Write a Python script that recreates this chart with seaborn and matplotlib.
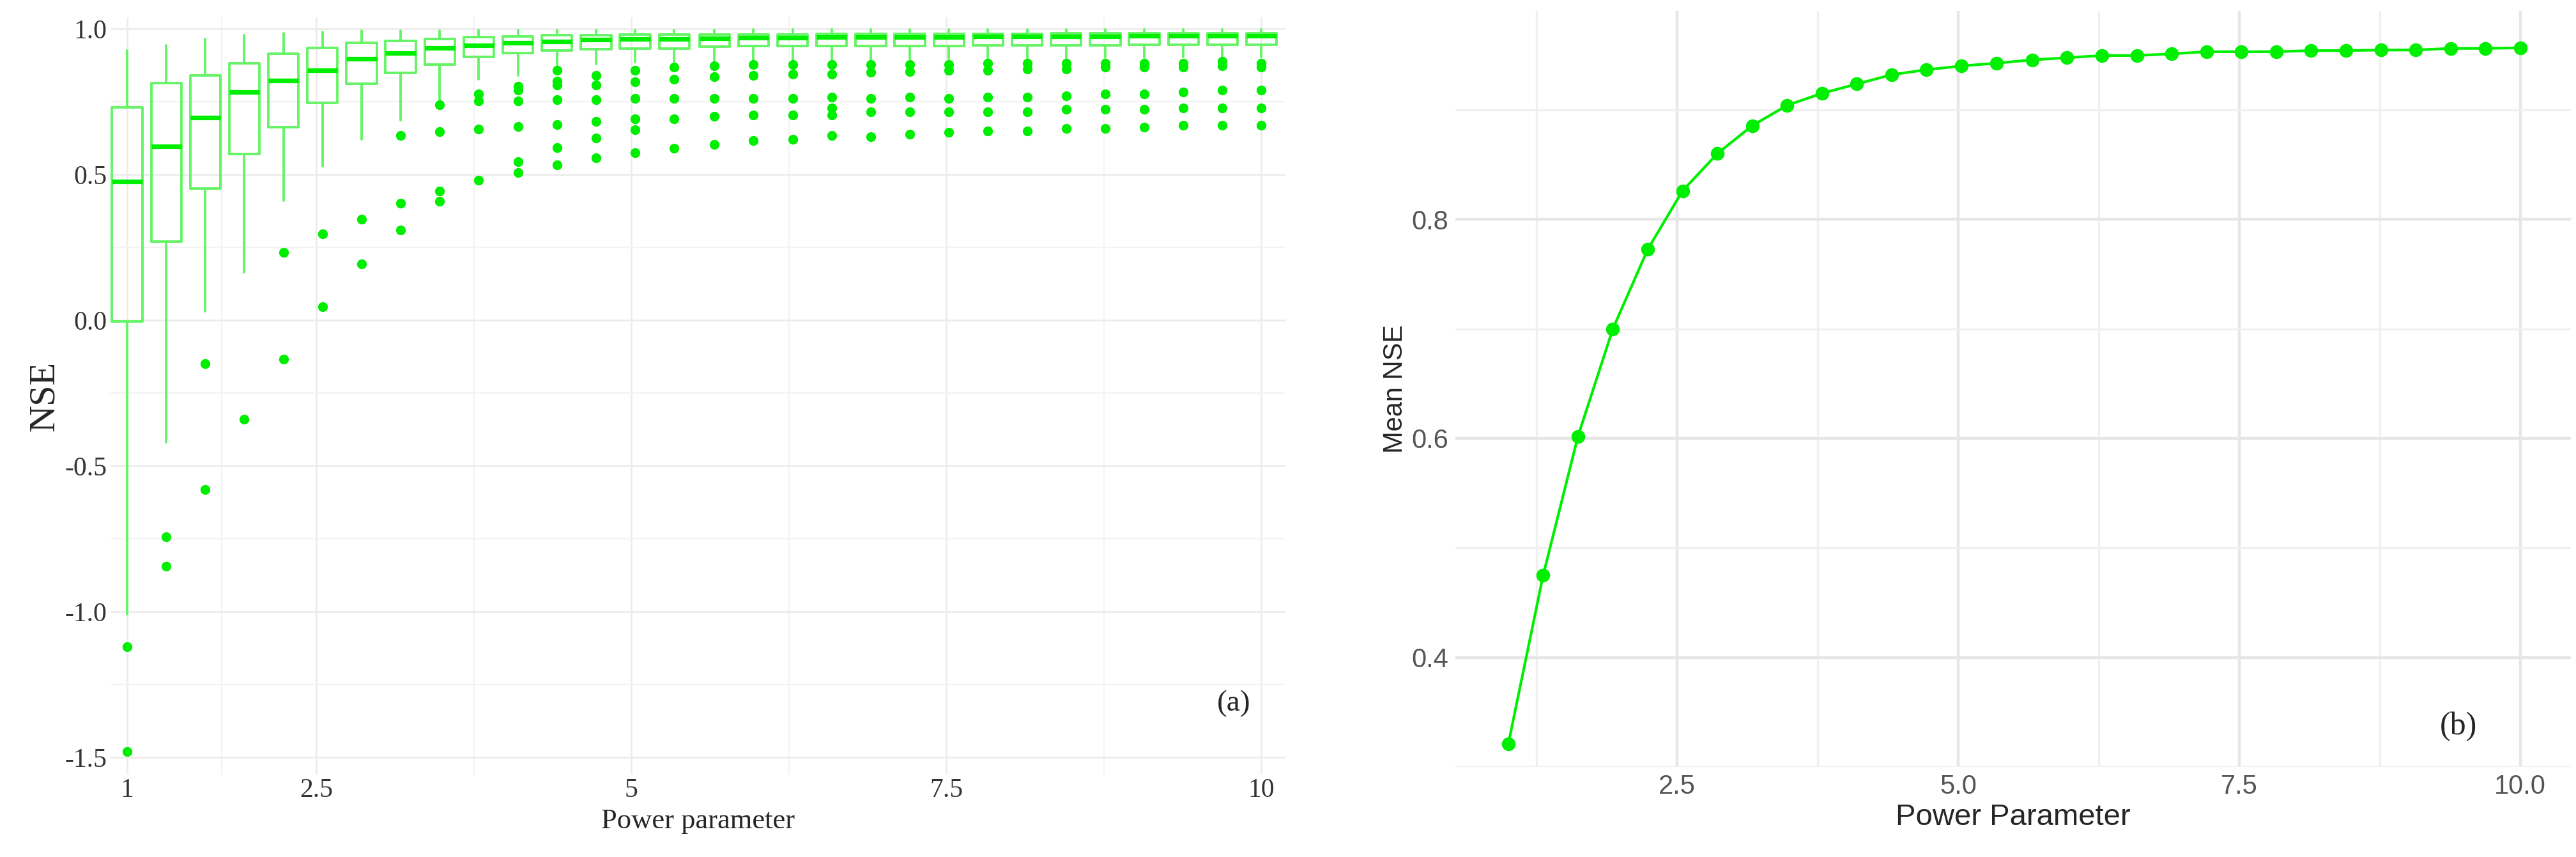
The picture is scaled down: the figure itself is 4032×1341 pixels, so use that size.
import numpy as np
import pandas as pd
import matplotlib
matplotlib.use("Agg")
import matplotlib.pyplot as plt
import seaborn as sns

# power parameter values (30 steps from 1 to 10)
power = [1.0, 1.31, 1.62, 1.93, 2.24, 2.55, 2.86, 3.17, 3.48, 3.79,
         4.10, 4.41, 4.72, 5.03, 5.34, 5.66, 5.97, 6.28, 6.59, 6.90,
         7.21, 7.52, 7.83, 8.14, 8.45, 8.76, 9.07, 9.38, 9.69, 10.0]

# box statistics
whis_hi = [0.925, 0.944, 0.966, 0.979, 0.985, 0.990, 0.994, 0.994, 0.994, 0.995,
           0.995, 0.995, 0.996, 0.996, 0.996, 0.996, 0.997, 0.997, 0.997, 0.997,
           0.997, 0.998, 0.998, 0.998, 0.998, 0.998, 0.999, 0.999, 0.999, 0.999]
q3 = [0.731, 0.813, 0.841, 0.882, 0.914, 0.935, 0.951, 0.959, 0.966, 0.972,
      0.974, 0.978, 0.978, 0.980, 0.980, 0.980, 0.981, 0.981, 0.982, 0.982,
      0.982, 0.983, 0.983, 0.983, 0.984, 0.984, 0.985, 0.985, 0.985, 0.985]
med = [0.476, 0.597, 0.696, 0.784, 0.823, 0.858, 0.897, 0.916, 0.935, 0.944,
       0.951, 0.957, 0.963, 0.966, 0.966, 0.967, 0.970, 0.970, 0.971, 0.971,
       0.972, 0.972, 0.973, 0.973, 0.974, 0.974, 0.975, 0.975, 0.976, 0.976]
q1 = [-0.004, 0.269, 0.451, 0.571, 0.662, 0.746, 0.812, 0.849, 0.877, 0.903,
      0.916, 0.925, 0.929, 0.933, 0.933, 0.938, 0.940, 0.940, 0.941, 0.941,
      0.942, 0.942, 0.943, 0.943, 0.944, 0.944, 0.945, 0.945, 0.946, 0.946]
whis_lo = [-1.01, -0.418, 0.030, 0.164, 0.41, 0.528, 0.621, 0.687, 0.752, 0.826,
           0.841, 0.873, 0.880, 0.885, 0.888, 0.890, 0.892, 0.893, 0.894, 0.895,
           0.896, 0.897, 0.898, 0.899, 0.900, 0.901, 0.902, 0.903, 0.904, 0.904]
fliers = [
    [-1.12, -1.48],
    [-0.743, -0.845],
    [-0.149, -0.582],
    [-0.341],
    [0.233, -0.134],
    [0.295, 0.047],
    [0.347, 0.192],
    [0.634, 0.401, 0.31],
    [0.739, 0.646, 0.444, 0.407],
    [0.776, 0.752, 0.655, 0.481],
    [0.802, 0.789, 0.752, 0.664, 0.543, 0.506],
    [0.858, 0.821, 0.808, 0.757, 0.672, 0.593, 0.534],
    [0.841, 0.808, 0.757, 0.683, 0.625, 0.556],
    [0.858, 0.817, 0.761, 0.690, 0.653, 0.575],
    [0.869, 0.826, 0.761, 0.690, 0.590],
    [0.873, 0.836, 0.761, 0.700, 0.603],
    [0.877, 0.840, 0.761, 0.705, 0.616],
    [0.877, 0.845, 0.761, 0.705, 0.621],
    [0.877, 0.845, 0.765, 0.728, 0.705, 0.634],
    [0.877, 0.851, 0.761, 0.714, 0.630],
    [0.877, 0.854, 0.765, 0.714, 0.639],
    [0.877, 0.858, 0.761, 0.714, 0.644],
    [0.882, 0.858, 0.765, 0.714, 0.649],
    [0.882, 0.863, 0.765, 0.714, 0.649],
    [0.882, 0.863, 0.770, 0.724, 0.657],
    [0.882, 0.869, 0.776, 0.724, 0.657],
    [0.882, 0.869, 0.776, 0.724, 0.662],
    [0.882, 0.869, 0.784, 0.728, 0.668],
    [0.888, 0.873, 0.789, 0.728, 0.668],
    [0.882, 0.869, 0.789, 0.728, 0.668],
]

# mean NSE, panel (b)
mean_nse = [0.321, 0.475, 0.602, 0.700, 0.7725, 0.826, 0.860, 0.8855, 0.904, 0.915,
            0.9235, 0.932, 0.9365, 0.940, 0.9425, 0.9455, 0.9475, 0.9495, 0.9495, 0.951,
            0.953, 0.953, 0.953, 0.954, 0.954, 0.9545, 0.9545, 0.956, 0.956, 0.9565]

green = "#00ee00"
sns.set_theme(style="whitegrid")
plt.rcParams["axes.unicode_minus"] = False

fig = plt.figure(figsize=(20.16, 6.705), dpi=200)
ax1 = fig.add_axes([0.043, 0.096, 0.456, 0.884])
ax2 = fig.add_axes([0.565, 0.105, 0.433, 0.882])

# ---- panel (a): boxplots
stats = []
for i in range(len(power)):
    stats.append({"whislo": whis_lo[i], "q1": q1[i], "med": med[i], "q3": q3[i],
                  "whishi": whis_hi[i], "fliers": fliers[i]})
ax1.bxp(stats, positions=power, widths=0.24, manage_ticks=False,
        boxprops=dict(color="#66f466", lw=1.4),
        whiskerprops=dict(color="#66f466", lw=1.4),
        capprops=dict(visible=False),
        medianprops=dict(color=green, lw=2.6),
        flierprops=dict(marker="o", markersize=4.5, markerfacecolor=green,
                        markeredgecolor=green))
ax1.set_xlim(0.87, 10.19)
ax1.set_ylim(-1.56, 1.04)
ax1.set_xticks([1, 2.5, 5, 7.5, 10])
ax1.set_xticklabels(["1", "2.5", "5", "7.5", "10"])
ax1.set_yticks([-1.5, -1.0, -0.5, 0.0, 0.5, 1.0])
ax1.set_yticks(np.arange(-1.25, 1.0, 0.5), minor=True)
ax1.set_xticks([1.75, 3.75, 6.25, 8.75], minor=True)
ax1.grid(which="major", color="#ececec", lw=1.0)
ax1.grid(which="minor", color="#f3f3f3", lw=0.8)
for s in ax1.spines.values():
    s.set_visible(False)
ax1.tick_params(axis="both", labelsize=15, colors="#333333", length=0, pad=2)
for lab in ax1.get_xticklabels() + ax1.get_yticklabels():
    lab.set_family("Liberation Serif")
ax1.set_xlabel("Power parameter", family="Liberation Serif", fontsize=16, labelpad=3)
ax1.set_ylabel("NSE", family="Liberation Serif", fontsize=21, labelpad=2)
ax1.text(9.78, -1.34, "(a)", family="Liberation Serif", fontsize=17, ha="center")

# ---- panel (b): mean NSE line
df = pd.DataFrame({"Power Parameter": power, "Mean NSE": mean_nse})
sns.lineplot(data=df, x="Power Parameter", y="Mean NSE", ax=ax2, color=green,
             lw=1.5, marker="o", markersize=7, markeredgecolor=green)
ax2.set_xlim(0.53, 10.45)
ax2.set_ylim(0.3, 0.99)
ax2.set_xticks([2.5, 5.0, 7.5, 10.0])
ax2.set_xticks([1.25, 3.75, 6.25, 8.75], minor=True)
ax2.set_yticks([0.4, 0.6, 0.8])
ax2.set_yticks([0.3, 0.5, 0.7, 0.9], minor=True)
ax2.grid(which="major", color="#e6e6e6", lw=1.6)
ax2.grid(which="minor", color="#f0f0f0", lw=1.2)
for s in ax2.spines.values():
    s.set_visible(False)
ax2.tick_params(axis="both", labelsize=15, colors="#555555", length=0, pad=4)
for lab in ax2.get_xticklabels() + ax2.get_yticklabels():
    lab.set_family("Liberation Sans")
ax2.set_xlabel("Power Parameter", family="Liberation Sans", fontsize=17, labelpad=2)
ax2.set_ylabel("Mean NSE", family="Liberation Sans", fontsize=15, labelpad=2)
ax2.text(9.45, 0.33, "(b)", family="Liberation Serif", fontsize=18, ha="center")

fig.savefig("out.png", dpi=200)
